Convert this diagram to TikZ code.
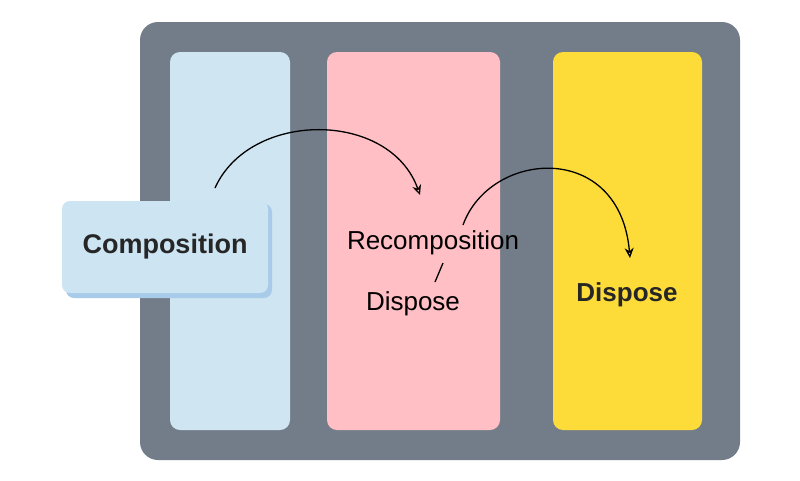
\documentclass[tikz,border=0pt]{standalone}
\usepackage{fontspec}
\setmainfont{Liberation Sans}
\usetikzlibrary{arrows.meta}
\definecolor{frame}{HTML}{737D8A}
\definecolor{cblue}{HTML}{CFE6F2}
\definecolor{cpink}{HTML}{FFBFC4}
\definecolor{cyel}{HTML}{FDDC3A}
\definecolor{bbox}{HTML}{CDE4F2}
\definecolor{bshadow}{HTML}{A9CBEA}
\tikzset{col/.style={rounded corners=10pt},
 arr/.style={line width=1.3pt,-{Stealth[length=10pt,width=9pt,open]}},
 lbl/.style={font=\fontsize{26}{30}\selectfont,text=black}}
\begin{document}
\begin{tikzpicture}[x=1pt,y=-1pt]
\useasboundingbox (0,0) rectangle (800,480);
\fill[white] (0,0) rectangle (800,480);
\fill[frame,rounded corners=18pt] (140,22) rectangle (740,460);
\fill[cblue,col] (170,52) rectangle (290,430);
\fill[cpink,col] (327,52) rectangle (500,430);
\fill[cyel,col] (553,52) rectangle (702,430);
\fill[bshadow,rounded corners=8pt] (66,204) rectangle (272,298);
\node[fill=bbox,rounded corners=8pt,minimum width=206pt,minimum height=92pt,font=\bfseries\fontsize{27}{30}\selectfont,text=black!85] (comp) at (165,247) {Composition};
\node[lbl] (recomp) at (433,243) {Recomposition};
\node[lbl] (disp1) at (413,304) {Dispose};
\node[font=\bfseries\fontsize{26}{30}\selectfont,text=black!85] (disp2) at (627,295) {Dispose};
\coordinate (a1) at (215,188);
\coordinate (a2) at (420,195);
\coordinate (b1) at (463,225);
\coordinate (b2) at (630,258);
\draw[arr] (a1) .. controls (250,110) and (390,110) .. (a2);
\draw[arr] (b1) .. controls (490,150) and (620,140) .. (b2);
\draw[line width=1.3pt] (435,282) -- (443,263);
\end{tikzpicture}
\end{document}
